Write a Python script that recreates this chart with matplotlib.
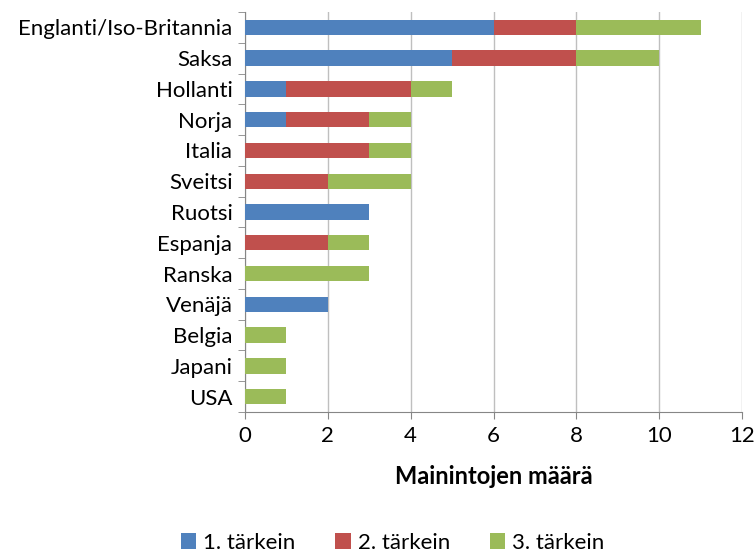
import matplotlib.pyplot as plt
import numpy as np
from matplotlib.ticker import FixedLocator

plt.rcParams["font.family"] = ["Lato", "DejaVu Sans"]

countries = ["Englanti/Iso-Britannia", "Saksa", "Hollanti", "Norja", "Italia",
             "Sveitsi", "Ruotsi", "Espanja", "Ranska", "Venäjä", "Belgia",
             "Japani", "USA"]
first = [6, 5, 1, 1, 0, 0, 3, 0, 0, 2, 0, 0, 0]
second = [2, 3, 3, 2, 3, 2, 0, 2, 0, 0, 0, 0, 0]
third = [3, 2, 1, 1, 1, 2, 0, 1, 3, 0, 1, 1, 1]
series_names = ["1. tärkein", "2. tärkein", "3. tärkein"]
colors = ["#4F81BD", "#C0504D", "#9BBB59"]

fig = plt.figure(figsize=(7.55, 5.55), dpi=100)
ax = fig.add_axes([0.3245, 0.2577, 0.6583, 0.7207])

y = np.arange(len(countries))
left = np.zeros(len(countries))
for vals, name, c in zip([first, second, third], series_names, colors):
    ax.barh(y, vals, left=left, height=0.5, color=c, label=name, zorder=3)
    left += np.array(vals)

ax.set_ylim(len(countries) - 0.5, -0.5)
ax.set_xlim(0, 12)
ax.set_xticks(range(0, 13, 2))
ax.set_yticks(y)
ax.set_yticklabels(countries)
ax.yaxis.set_minor_locator(FixedLocator(np.arange(-0.5, len(countries), 1)))
ax.tick_params(axis="y", which="major", length=0, labelsize=16, pad=9)
ax.tick_params(axis="y", which="minor", length=5, color="#868686", direction="out")
ax.tick_params(axis="x", length=5, color="#868686", labelsize=16, pad=5)
ax.grid(axis="x", color="#BFBFBF", lw=1, zorder=0)
for s in ["top", "right"]:
    ax.spines[s].set_visible(False)
for s in ["left", "bottom"]:
    ax.spines[s].set_color("#868686")
ax.set_xlabel("Mainintojen määrä", fontsize=17, fontweight="bold", labelpad=14)

fig.legend(loc="center", bbox_to_anchor=(0.52, 0.022), ncol=3,
           frameon=False, fontsize=16, handlelength=0.7, handleheight=0.7,
           columnspacing=1.8, handletextpad=0.3)

fig.savefig("out.png", dpi=100)
